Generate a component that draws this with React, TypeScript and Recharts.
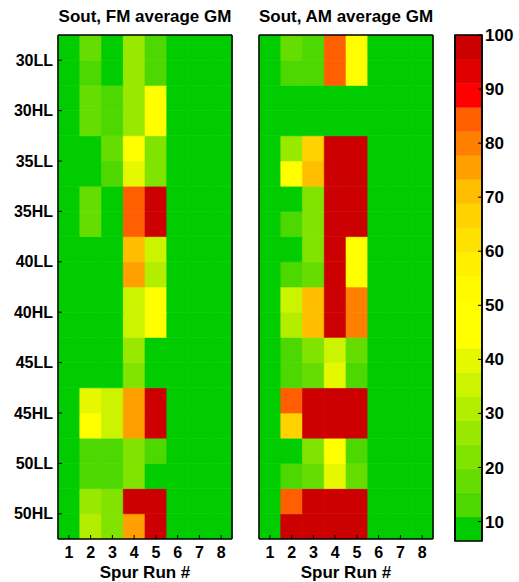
import React from 'react';
import { BarChart, Bar, XAxis, YAxis, Cell, ReferenceArea } from 'recharts';

// ---------- data ----------
const RUNS = ['1', '2', '3', '4', '5', '6', '7', '8'];
const ROW_LABELS = ['30LL', '30HL', '35LL', '35HL', '40LL', '40HL', '45LL', '45HL', '50LL', '50HL'];
const COLORBAR_TICKS = [10, 20, 30, 40, 50, 60, 70, 80, 90, 100];
const Z_MIN = 6.4;
const Z_MAX = 100;

// FM average GM: 20 sub-rows (top to bottom) x 8 spur runs
const FM_VALUES: number[][] = [
  [8, 17.5, 8, 26.5, 13, 8, 8, 8],
  [8, 13, 8, 26.5, 13, 8, 8, 8],
  [8, 17.5, 13, 26.5, 50, 8, 8, 8],
  [8, 17.5, 13, 26.5, 50, 8, 8, 8],
  [8, 8, 17.5, 50, 22, 8, 8, 8],
  [8, 8, 13, 40, 22, 8, 8, 8],
  [8, 17.5, 8, 84.5, 100, 8, 8, 8],
  [8, 17.5, 8, 84.5, 100, 8, 8, 8],
  [8, 8, 8, 71, 35.5, 8, 8, 8],
  [8, 8, 8, 75.5, 31, 8, 8, 8],
  [8, 8, 8, 35.5, 50, 8, 8, 8],
  [8, 8, 8, 35.5, 50, 8, 8, 8],
  [8, 8, 8, 26.5, 8, 8, 8, 8],
  [8, 8, 8, 22, 8, 8, 8, 8],
  [8, 40, 35.5, 75.5, 100, 8, 8, 8],
  [8, 50, 35.5, 75.5, 100, 8, 8, 8],
  [8, 13, 13, 22, 13, 8, 8, 8],
  [8, 13, 13, 22, 8, 8, 8, 8],
  [8, 26.5, 22, 100, 100, 8, 8, 8],
  [8, 31, 22, 75.5, 100, 8, 8, 8],
];

// AM average GM
const AM_VALUES: number[][] = [
  [8, 17.5, 13, 84.5, 50, 8, 8, 8],
  [8, 13, 13, 84.5, 50, 8, 8, 8],
  [8, 8, 8, 8, 8, 8, 8, 8],
  [8, 8, 8, 8, 8, 8, 8, 8],
  [8, 26.5, 66.5, 100, 100, 8, 8, 8],
  [8, 50, 71, 100, 100, 8, 8, 8],
  [8, 8, 22, 100, 100, 8, 8, 8],
  [8, 13, 22, 100, 100, 8, 8, 8],
  [8, 8, 22, 100, 50, 8, 8, 8],
  [8, 13, 17.5, 100, 50, 8, 8, 8],
  [8, 35.5, 71, 100, 80, 8, 8, 8],
  [8, 31, 71, 100, 80, 8, 8, 8],
  [8, 13, 22, 35.5, 17.5, 8, 8, 8],
  [8, 13, 17.5, 40, 13, 8, 8, 8],
  [8, 84.5, 100, 100, 100, 8, 8, 8],
  [8, 66.5, 100, 100, 100, 8, 8, 8],
  [8, 8, 22, 50, 13, 8, 8, 8],
  [8, 13, 17.5, 40, 17.5, 8, 8, 8],
  [8, 84.5, 100, 100, 100, 8, 8, 8],
  [8, 100, 100, 100, 100, 8, 8, 8],
];

const PALETTE = [
  '#00CC00', '#4CD800', '#66DD00', '#80E300', '#99E800', '#B3ED00', '#CCF300',
  '#E6F800', '#FFFF00', '#FFFF00', '#FFFA00', '#FFF000', '#FFE100', '#FFD200',
  '#FFBF00', '#FFA000', '#FF8000', '#FF5F00', '#FF0000', '#E00000', '#CC0000',
];

// ---------- helpers ----------
const BAND = (Z_MAX - Z_MIN) / PALETTE.length;
const colorFor = (v: number) => {
  const i = Math.min(PALETTE.length - 1, Math.max(0, Math.floor((v - Z_MIN) / BAND)));
  return PALETTE[i];
};
const N_ROWS = FM_VALUES.length;
const Y_TICKS = ROW_LABELS.map((_, k) => N_ROWS - 1 - 2 * k);
const labelForTick = (t: number) => ROW_LABELS[(N_ROWS - 1 - t) / 2] ?? '';

const FONT = '"Liberation Sans", Arial, sans-serif';
const tickStyle = { fontFamily: FONT, fontWeight: 700, fontSize: 16, fill: '#000' };
const LINE = { stroke: '#000', strokeWidth: 1.5 };
const TICKLINE = { stroke: '#000', strokeWidth: 1 };

function buildData(values: number[][]) {
  return RUNS.map((run, c) => {
    const d: Record<string, any> = { run };
    values.forEach((row, r) => {
      d[`h${r}`] = 1;
      d[`v${r}`] = row[c];
    });
    return d;
  });
}

type HMProps = {
  values: number[][];
  showLabels: boolean;
  width: number;
  marginLeft: number;
  leftAxisWidth: number;
  marginRight: number;
};

// axes set; `overlay` draws lines/ticks/labels, base only reserves the same space
function axes(overlay: boolean, showLabels: boolean, leftAxisWidth: number) {
  return [
    <XAxis
      key="xb"
      xAxisId="b"
      dataKey="run"
      height={43}
      axisLine={overlay ? LINE : false}
      tickLine={overlay ? TICKLINE : false}
      tickSize={-4}
      tickMargin={12}
      tick={overlay ? tickStyle : false}
      interval={0}
      label={
        overlay
          ? {
              value: 'Spur Run #',
              position: 'insideBottom',
              offset: 4,
              style: { fontFamily: FONT, fontWeight: 700, fontSize: 17, fill: '#000' },
            }
          : undefined
      }
    />,
    <XAxis
      key="xt"
      xAxisId="t"
      dataKey="run"
      orientation="top"
      height={1}
      axisLine={overlay ? LINE : false}
      tickLine={overlay ? TICKLINE : false}
      tickSize={-4}
      tick={false}
      interval={0}
    />,
    <YAxis
      key="yl"
      yAxisId="l"
      type="number"
      domain={[0, N_ROWS]}
      allowDataOverflow
      ticks={Y_TICKS}
      interval={0}
      width={leftAxisWidth}
      axisLine={overlay ? LINE : false}
      tickLine={overlay ? TICKLINE : false}
      tickSize={-4}
      tickMargin={9}
      tick={overlay && showLabels ? tickStyle : false}
      tickFormatter={labelForTick}
    />,
    <YAxis
      key="yr"
      yAxisId="r"
      orientation="right"
      type="number"
      domain={[0, N_ROWS]}
      allowDataOverflow
      ticks={Y_TICKS}
      interval={0}
      width={1}
      axisLine={overlay ? LINE : false}
      tickLine={overlay ? TICKLINE : false}
      tickSize={-4}
      tick={false}
    />,
  ];
}

function Heatmap({ values, showLabels, width, marginLeft, leftAxisWidth, marginRight }: HMProps) {
  const data = buildData(values);
  const order = values.map((_, r) => values.length - 1 - r);
  const margin = { top: 34, right: marginRight, left: marginLeft, bottom: 0 };
  return (
    <div style={{ position: 'relative', width, height: 582 }}>
      <div style={{ position: 'absolute', left: 0, top: 0 }}>
        <BarChart width={width} height={582} data={data} margin={margin} barCategoryGap={0} barGap={0}>
          {axes(false, showLabels, leftAxisWidth)}
          {order.map((r) => (
            <Bar key={r} xAxisId="b" yAxisId="l" stackId="z" dataKey={`h${r}`} isAnimationActive={false}>
              {data.map((d, c) => (
                <Cell
                  key={c}
                  fill={colorFor(d[`v${r}`])}
                  stroke={colorFor(d[`v${r}`])}
                  strokeWidth={0.6}
                />
              ))}
            </Bar>
          ))}
        </BarChart>
      </div>
      <div style={{ position: 'absolute', left: 0, top: 0 }}>
        <BarChart width={width} height={582} data={data} margin={margin} barCategoryGap={0} barGap={0}>
          {axes(true, showLabels, leftAxisWidth)}
        </BarChart>
      </div>
    </div>
  );
}

function ColorBar() {
  const bands = PALETTE.map((color, i) => ({
    color,
    lo: Z_MIN + i * BAND,
    hi: Z_MIN + (i + 1) * BAND,
  }));
  const margin = { top: 35, right: 0, left: 14, bottom: 41 };
  const yAxes = (overlay: boolean) => [
    <XAxis key="x" dataKey="name" hide />,
    <YAxis
      key="r"
      yAxisId="r"
      orientation="right"
      type="number"
      domain={[Z_MIN, Z_MAX]}
      allowDataOverflow
      ticks={COLORBAR_TICKS}
      interval={0}
      width={37}
      axisLine={overlay ? LINE : false}
      tickLine={overlay ? TICKLINE : false}
      tickSize={-4}
      tickMargin={7}
      tick={overlay ? { ...tickStyle, fontSize: 17 } : false}
    />,
    <YAxis
      key="l"
      yAxisId="l"
      orientation="left"
      type="number"
      domain={[Z_MIN, Z_MAX]}
      allowDataOverflow
      ticks={COLORBAR_TICKS}
      interval={0}
      width={1}
      axisLine={overlay ? LINE : false}
      tickLine={overlay ? TICKLINE : false}
      tickSize={-4}
      tick={false}
    />,
  ];
  return (
    <div style={{ position: 'relative', width: 79, height: 582 }}>
      <div style={{ position: 'absolute', left: 0, top: 0 }}>
        <BarChart width={79} height={582} data={[{ name: 'z' }]} margin={margin}>
          {yAxes(false)}
          {bands.map((b, i) => (
            <ReferenceArea
              key={i}
              yAxisId="r"
              y1={b.lo}
              y2={b.hi}
              fill={b.color}
              fillOpacity={1}
              stroke={b.color}
              strokeWidth={0.5}
              ifOverflow="visible"
            />
          ))}
        </BarChart>
      </div>
      <div style={{ position: 'absolute', left: 0, top: 0 }}>
        <BarChart width={79} height={582} data={[{ name: 'z' }]} margin={margin}>
          {yAxes(true)}
          <ReferenceArea
            yAxisId="r"
            y1={Z_MIN}
            y2={Z_MAX}
            fill="none"
            fillOpacity={0}
            stroke="#000"
            strokeWidth={1.5}
            ifOverflow="visible"
          />
        </BarChart>
      </div>
    </div>
  );
}

const titleStyle: React.CSSProperties = {
  position: 'absolute',
  top: 7,
  height: 20,
  lineHeight: '20px',
  fontFamily: FONT,
  fontWeight: 700,
  fontSize: 17,
  textAlign: 'center',
  color: '#000',
  whiteSpace: 'nowrap',
};

export default function App() {
  return (
    <div
      style={{
        position: 'absolute',
        left: 0,
        top: 0,
        width: 519,
        height: 582,
        background: '#fff',
        overflow: 'hidden',
      }}
    >
      <div style={{ ...titleStyle, left: 45, width: 200 }}>Sout, FM average GM</div>
      <div style={{ ...titleStyle, left: 246, width: 200 }}>Sout, AM average GM</div>
      <div style={{ position: 'absolute', left: 0, top: 0 }}>
        <Heatmap values={FM_VALUES} showLabels width={240} marginLeft={8} leftAxisWidth={50} marginRight={7} />
      </div>
      <div style={{ position: 'absolute', left: 240, top: 0 }}>
        <Heatmap values={AM_VALUES} showLabels={false} width={200} marginLeft={9} leftAxisWidth={10} marginRight={6} />
      </div>
      <div style={{ position: 'absolute', left: 440, top: 0 }}>
        <ColorBar />
      </div>
    </div>
  );
}
